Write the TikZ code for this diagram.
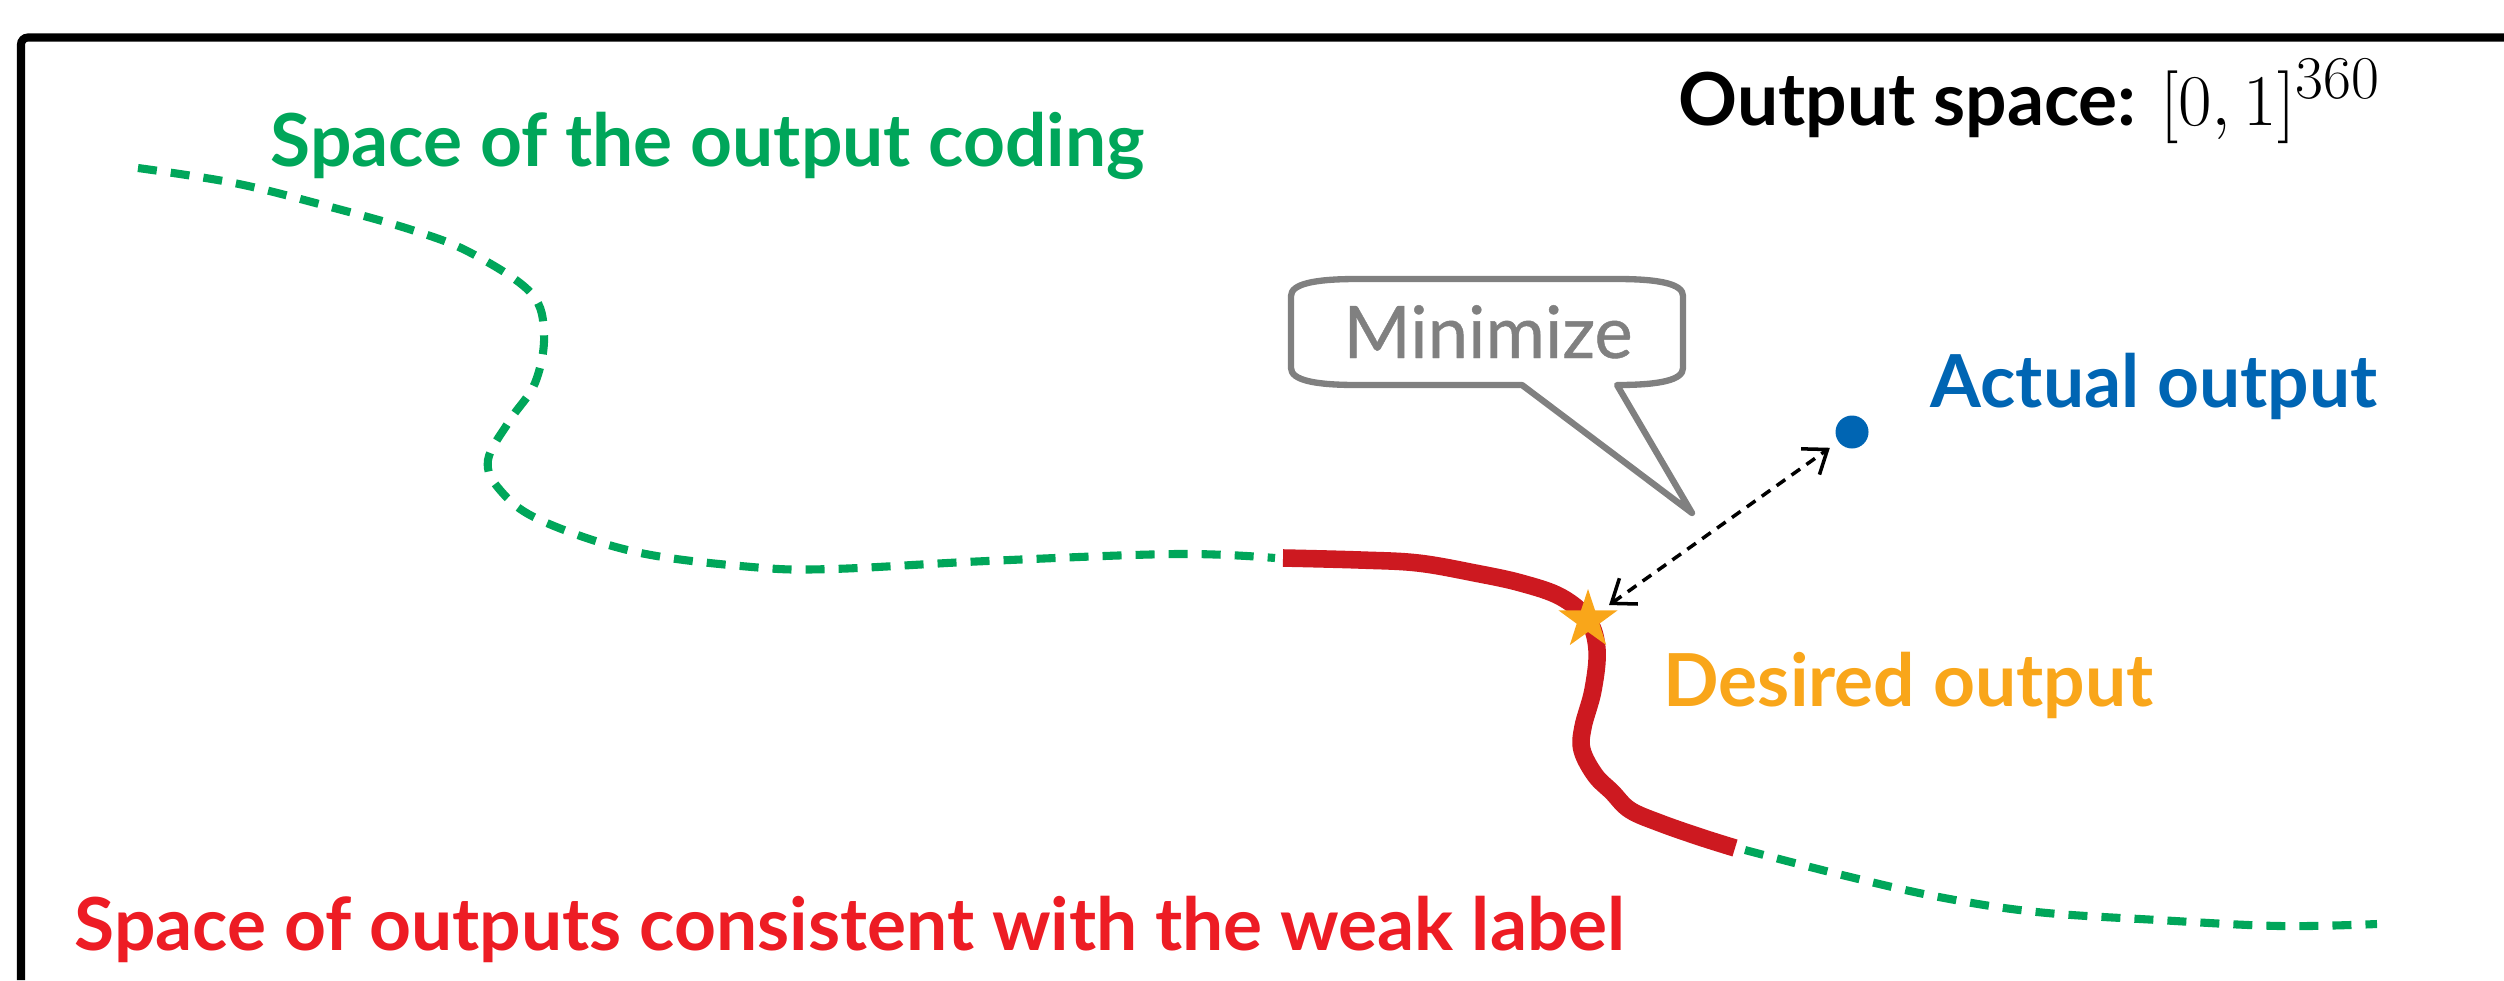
\documentclass[tikz,border=0pt]{standalone}
\usepackage{fontspec}
\setmainfont{Lato}
\newfontfamily\bubblefont{Lato}[FakeBold=0.6]
\usetikzlibrary{arrows.meta,shapes.geometric}
\definecolor{codegreen}{RGB}{0,166,90}
\definecolor{weakred}{RGB}{237,28,36}
\definecolor{curvered}{RGB}{205,25,32}
\definecolor{outorange}{RGB}{249,166,26}
\definecolor{outblue}{RGB}{0,101,179}
\definecolor{bubblegray}{RGB}{128,128,128}
\begin{document}
\begin{tikzpicture}[every node/.style={font=\fontsize{20.8}{24}\selectfont\bfseries,inner sep=0pt},
  lbl/.style={anchor=base west},
  coding/.style={draw=codegreen,line width=2.3pt,dash pattern=on 5.4pt off 4pt},
  weak/.style={draw=curvered,line width=5pt,line join=round}]
\useasboundingbox (0,0) rectangle (25.04,9.80);
\draw[line width=2.3pt,rounded corners=2pt] (0.21,0) -- (0.21,9.425) -- (25.04,9.425);
% labels
\node[lbl,text=codegreen] (codinglabel) at (2.70,8.14) {Space of the output coding};
\node[lbl] (spacelabel) at (16.78,8.55) {Output space: {\mdseries\fontsize{21.5}{24}\selectfont$[0,1]^{\mbox{\fontsize{16}{16}\selectfont$360$}}$}};
\node[lbl,text=outblue] (actuallabel) at (19.30,5.73) {Actual output};
\node[lbl,text=outorange] (desiredlabel) at (16.63,2.74) {Desired output};
\node[lbl,text=weakred] (weaklabel) at (0.74,0.30) {Space of outputs consistent with the weak label};
% output coding curve
\draw[coding] plot[smooth,tension=0.6] coordinates {(1.38,8.12) (2.34,7.97) (3.23,7.75) (4.12,7.50) (4.71,7.27) (5.31,6.87) (5.44,6.45) (5.35,5.97) (5.10,5.60) (4.88,5.20) (5.00,4.90) (5.40,4.60) (6.36,4.28) (7.52,4.13) (8.32,4.11) (9.87,4.19) (11.76,4.26) (12.75,4.22)};
\draw[weak] plot[smooth,tension=0.6] coordinates {(12.83,4.22) (13.60,4.20) (14.18,4.17) (14.75,4.07) (15.21,3.97) (15.61,3.83) (15.88,3.60) (15.97,3.30) (15.93,2.90) (15.83,2.53) (15.82,2.30) (15.95,2.05) (16.12,1.88) (16.30,1.70) (16.60,1.57) (17.00,1.43) (17.35,1.32)};
\draw[coding] plot[smooth,tension=0.6] coordinates {(17.45,1.30) (18.42,1.05) (19.39,0.83) (20.37,0.68) (21.58,0.60) (22.80,0.54) (23.77,0.56)};
% points
\node[circle,fill=outblue,minimum size=0.33cm] (actual) at (18.52,5.48) {};
\node[star,star points=5,star point ratio=2.6,fill=outorange,minimum size=0.62cm] (desired) at (15.88,3.60) {};
\draw[line width=1pt,dash pattern=on 3pt off 2.2pt,{Straight Barb[length=6pt,width=9pt]}-{Straight Barb[length=6pt,width=9pt]},shorten <=0.8mm,shorten >=1mm] (desired) -- (actual);
% callout
\node[font=\fontsize{20.6}{24}\selectfont\bubblefont,text=bubblegray,anchor=base] (minimize) at (14.88,6.22) {Minimize};
\draw[bubblegray,line width=1.8pt,line join=round] (13.57,7.01) -- (16.17,7.01) .. controls (16.60,7.01) and (16.83,6.96) .. (16.83,6.84) -- (16.83,6.12) .. controls (16.83,6.00) and (16.60,5.95) .. (16.17,5.95) -- (16.92,4.67) -- (15.22,5.95) -- (13.57,5.95) .. controls (13.14,5.95) and (12.91,6.00) .. (12.91,6.12) -- (12.91,6.84) .. controls (12.91,6.96) and (13.14,7.01) .. (13.57,7.01) -- cycle;
\end{tikzpicture}
\end{document}
